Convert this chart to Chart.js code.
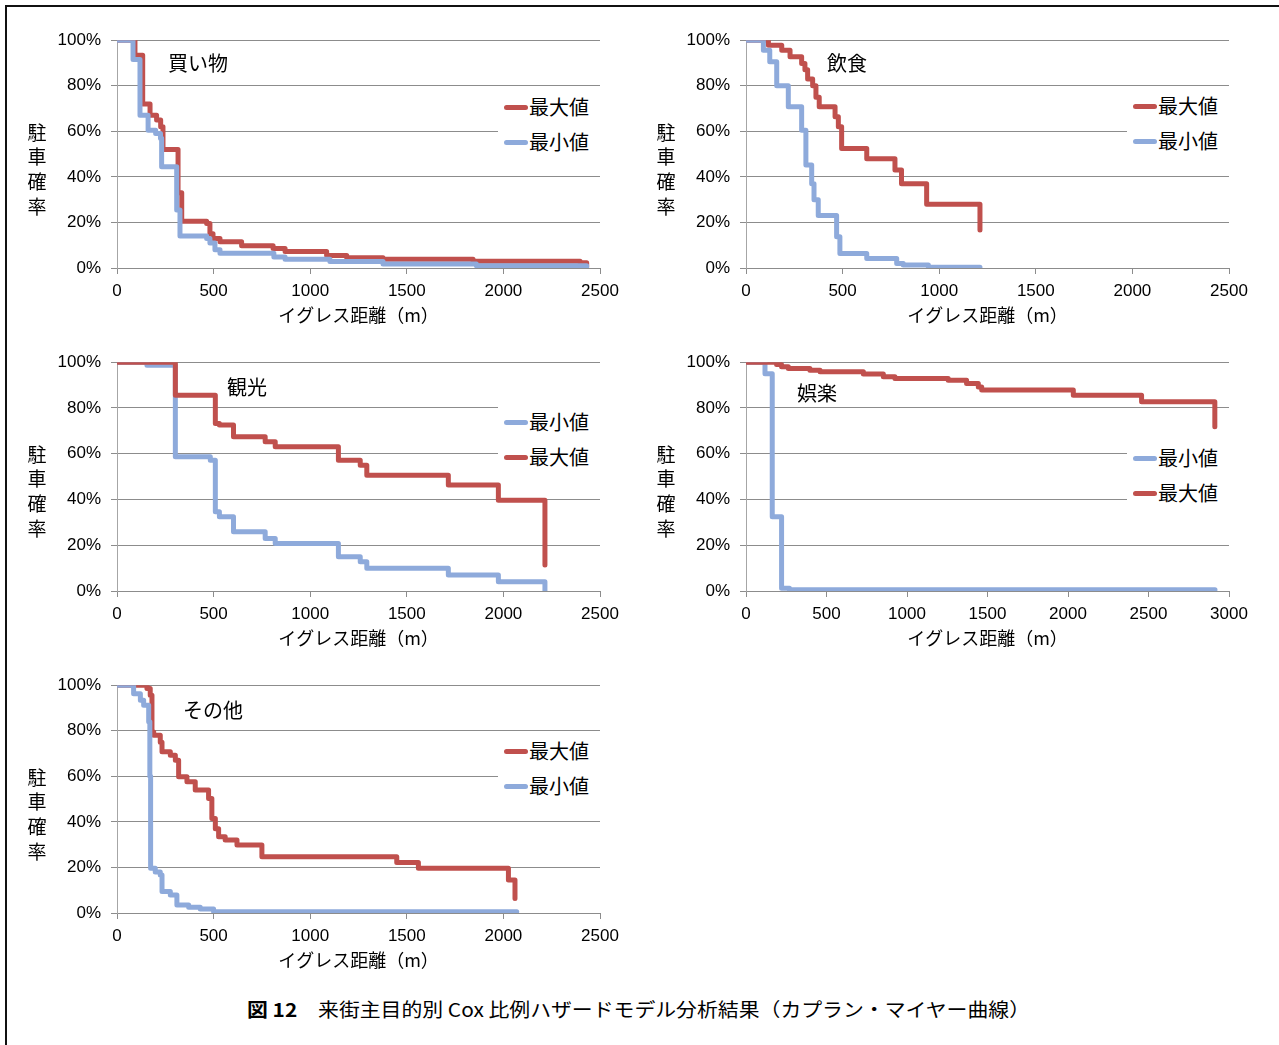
<!DOCTYPE html>
<html lang="ja">
<head>
<meta charset="utf-8">
<title>来街主目的別 Cox 比例ハザードモデル分析結果</title>
<script src="https://cdn.jsdelivr.net/npm/chart.js@4/dist/chart.umd.min.js"></script>
<style>
  body { margin: 0; background: #fff; width: 1279px; height: 1045px; position: relative; overflow: hidden;
         font-family: 'Noto Sans CJK JP', sans-serif; color: #000; }
  .frame { position: absolute; left: 5px; top: 5px; width: 1300px; height: 1100px; border: 2px solid #111; }
  .panel { position: absolute; }
  .lbl { position: absolute; font-size: 20px; line-height: 24px; white-space: nowrap; }
  .ytitle { position: absolute; font-size: 19px; line-height: 24.7px; width: 24px; text-align: center; }
  .legend { position: absolute; background: #fff; }
  .legend .sw { position: absolute; width: 24px; height: 5px; border-radius: 3px; }
  .legend .tx { position: absolute; font-size: 20px; line-height: 24px; white-space: nowrap; }
  .caption { position: absolute; left: 247px; top: 997px; font-size: 19px; line-height: 24px; white-space: nowrap;
             transform-origin: left center; }
</style>
</head>
<body>
<div class="frame"></div>
<div id="root"></div>
<div class="caption" id="caption"><b>図 12</b>　来街主目的別 Cox 比例ハザードモデル分析結果（カプラン・マイヤー曲線）</div>
<script>
const redColor = '#c0504d';
const blueColor = '#8eaadb';

const distTicks = [0, 500, 1000, 1500, 2000, 2500];
const distTicksWide = [0, 500, 1000, 1500, 2000, 2500, 3000];
const probTicks = [0, 20, 40, 60, 80, 100];
const xTitle = 'イグレス距離（m）';
const yTitle = ['駐', '車', '確', '率'];

// 買い物
const shopMaxX = [0, 93, 133, 171, 205, 226, 238, 316, 335, 464, 481, 497, 533, 645, 808, 870, 1085, 1189, 1377, 1843, 2397, 2431];
const shopMaxY = [100, 93.4, 72, 67, 65, 62, 52, 33, 20.5, 19.5, 15, 13, 11.5, 9.8, 8.6, 7.2, 5.5, 4.5, 3.8, 3, 2.3, 0.6];
const shopMinX = [0, 83, 119, 161, 200, 225, 231, 309, 326, 464, 481, 507, 533, 812, 870, 1102, 1377, 1860, 2431];
const shopMinY = [100, 91.5, 67, 60.5, 59, 57, 44.5, 25.5, 14, 13, 11, 8, 6.5, 4.8, 3.8, 2.8, 1.8, 1, 0.3];

// 飲食
const foodMaxX = [0, 116, 185, 228, 288, 305, 319, 345, 362, 379, 461, 478, 495, 625, 771, 805, 935, 1211];
const foodMaxY = [100, 97.8, 95.6, 92.7, 89.8, 87, 83, 80, 75, 70.8, 66.4, 62, 52.5, 48, 43, 37, 28, 16.7];
const foodMinX = [0, 90, 123, 159, 219, 288, 310, 340, 352, 374, 469, 486, 625, 780, 814, 944, 1211];
const foodMinY = [100, 95.6, 90.5, 80, 70.8, 60.5, 45.2, 37, 30, 23, 13.7, 6.4, 4.2, 2, 1.3, 0.3, 0.3];

// 観光
const tourMinX = [0, 155, 302, 483, 509, 530, 603, 767, 819, 1146, 1259, 1293, 1715, 1974, 2215];
const tourMinY = [100, 98.7, 58.7, 57.2, 34.6, 32.4, 25.9, 23, 20.8, 15, 12.8, 9.9, 7, 4, 0];
const tourMaxX = [0, 302, 509, 530, 603, 767, 819, 1146, 1259, 1293, 1715, 1974, 2215];
const tourMaxY = [100, 85.6, 73.2, 72.5, 67.4, 65.2, 63, 57.2, 55, 50.6, 46.3, 39.7, 11.4];

// 娯楽
const funMinX = [0, 118, 163, 221, 270, 2913];
const funMinY = [100, 95, 32.5, 1.2, 0.5, 0.5];
const funMaxX = [0, 190, 221, 263, 397, 460, 729, 853, 925, 1256, 1370, 1443, 1464, 2033, 2457, 2912];
const funMaxY = [100, 99, 98, 97.2, 96.5, 95.8, 94.8, 93.6, 92.9, 92.1, 90.7, 89.2, 87.8, 85.6, 82.7, 71.8];

// その他
const otherMaxX = [0, 155, 172, 181, 190, 224, 233, 276, 302, 319, 362, 405, 474, 491, 509, 526, 560, 621, 750, 1448, 1560, 2026, 2060];
const otherMaxY = [100, 98.5, 95.6, 79.5, 78, 75, 70.8, 69.3, 67, 59.8, 57.6, 54, 50.3, 41.5, 37, 33.5, 32, 29.8, 24.7, 22.2, 19.6, 14.5, 6.4];
const otherMinX = [0, 86, 121, 138, 164, 170, 174, 198, 224, 233, 276, 310, 371, 431, 500, 2069];
const otherMinY = [100, 96.3, 93.4, 91.2, 84, 60, 19.6, 18, 16.7, 9.4, 7.9, 3.5, 2.5, 1.8, 0.6, 0.6];

const maxName = '最大値';
const minName = '最小値';

const panels = [
  { title: '買い物', left: 117, top: 40, bottom: 268, xMax: 2500, xTicks: distTicks, labelDx: 51, labelDy: 23, legendDy: 67,
    series: [{ name: maxName, color: redColor, x: shopMaxX, y: shopMaxY }, { name: minName, color: blueColor, x: shopMinX, y: shopMinY }] },
  { title: '飲食', left: 746, top: 40, bottom: 268, xMax: 2500, xTicks: distTicks, labelDx: 81, labelDy: 23, legendDy: 66,
    series: [{ name: maxName, color: redColor, x: foodMaxX, y: foodMaxY }, { name: minName, color: blueColor, x: foodMinX, y: foodMinY }] },
  { title: '観光', left: 117, top: 362, bottom: 591, xMax: 2500, xTicks: distTicks, labelDx: 110, labelDy: 25, legendDy: 60,
    series: [{ name: minName, color: blueColor, x: tourMinX, y: tourMinY }, { name: maxName, color: redColor, x: tourMaxX, y: tourMaxY }] },
  { title: '娯楽', left: 746, top: 362, bottom: 591, xMax: 3000, xTicks: distTicksWide, labelDx: 51, labelDy: 31, legendDy: 96,
    series: [{ name: minName, color: blueColor, x: funMinX, y: funMinY }, { name: maxName, color: redColor, x: funMaxX, y: funMaxY }] },
  { title: 'その他', left: 117, top: 685, bottom: 913, xMax: 2500, xTicks: distTicks, labelDx: 66, labelDy: 25, legendDy: 66,
    series: [{ name: maxName, color: redColor, x: otherMaxX, y: otherMaxY }, { name: minName, color: blueColor, x: otherMinX, y: otherMinY }] }
];

const root = document.getElementById('root');
const tickFont = { family: "'Liberation Sans', 'Noto Sans CJK JP', sans-serif", size: 17 };
const PAD_L = 97, PAD_T = 20, PAD_R = 30, X_H = 62, PLOT_W = 483;

panels.forEach(p => {
  const plotH = p.bottom - p.top;
  const box = document.createElement('div');
  box.className = 'panel';
  box.style.left = (p.left - PAD_L) + 'px';
  box.style.top = (p.top - PAD_T) + 'px';
  const canvas = document.createElement('canvas');
  canvas.width = PAD_L + PLOT_W + PAD_R;
  canvas.height = PAD_T + plotH + X_H;
  box.appendChild(canvas);
  root.appendChild(box);

  new Chart(canvas, {
    type: 'line',
    data: {
      datasets: p.series.map((s, i) => ({
        label: s.name,
        data: s.x.map((x, k) => ({ x: x, y: s.y[k] })),
        borderColor: s.color,
        backgroundColor: s.color,
        borderWidth: 5,
        borderJoinStyle: 'round',
        borderCapStyle: 'round',
        pointRadius: 0,
        fill: false,
        stepped: 'before',
        order: p.series.length - 1 - i
      }))
    },
    options: {
      responsive: false,
      animation: false,
      layout: { padding: { left: 0, top: PAD_T, right: PAD_R, bottom: 0 } },
      plugins: { legend: { display: false }, tooltip: { enabled: false } },
      scales: {
        x: {
          type: 'linear', min: 0, max: p.xMax,
          afterBuildTicks: s => { s.ticks = p.xTicks.map(v => ({ value: v })); },
          afterFit: s => { s.height = X_H; },
          ticks: { color: '#000', font: tickFont, padding: 7, maxRotation: 0, autoSkip: false, callback: v => String(v) },
          grid: { drawOnChartArea: false, drawTicks: true, tickLength: 6, color: '#8c8c8c' },
          border: { color: '#8c8c8c', width: 1 },
          title: { display: true, text: xTitle, color: '#000',
                   font: { family: "'Noto Sans CJK JP', sans-serif", size: 18 }, padding: { top: 0, bottom: 4 } }
        },
        y: {
          min: 0, max: 100,
          afterBuildTicks: s => { s.ticks = probTicks.map(v => ({ value: v })); },
          afterFit: s => { s.width = PAD_L; },
          ticks: { color: '#000', font: tickFont, padding: 10, callback: v => v + '%' },
          grid: { drawTicks: true, tickLength: 6, color: '#8c8c8c' },
          border: { color: '#a6a6a6', width: 1 }
        }
      }
    }
  });

  // panel label
  const lbl = document.createElement('div');
  lbl.className = 'lbl';
  lbl.textContent = p.title;
  lbl.style.left = (p.left + p.labelDx) + 'px';
  lbl.style.top = (p.top + p.labelDy - 12) + 'px';
  root.appendChild(lbl);

  // stacked y-axis title
  const yt = document.createElement('div');
  yt.className = 'ytitle';
  yt.innerHTML = yTitle.join('<br>');
  yt.style.left = (p.left - 80 - 12) + 'px';
  yt.style.top = (p.top + 92 - 12.35) + 'px';
  root.appendChild(yt);

  // legend
  const lg = document.createElement('div');
  lg.className = 'legend';
  const lgTop = p.top + p.legendDy - 17;
  lg.style.left = (p.left + 381) + 'px';
  lg.style.top = lgTop + 'px';
  lg.style.width = (PLOT_W - 381) + 'px';
  lg.style.height = '69px';
  p.series.forEach((s, i) => {
    const cy = 17 + i * 35;
    const sw = document.createElement('div');
    sw.className = 'sw';
    sw.style.background = s.color;
    sw.style.left = '6px';
    sw.style.top = (cy - 2.5) + 'px';
    const tx = document.createElement('div');
    tx.className = 'tx';
    tx.textContent = s.name;
    tx.style.left = '31px';
    tx.style.top = (cy - 12) + 'px';
    lg.appendChild(sw);
    lg.appendChild(tx);
  });
  root.appendChild(lg);
});

const cap = document.getElementById('caption');
const capW = cap.getBoundingClientRect().width;
cap.style.transform = 'scaleX(' + (783 / capW) + ')';
</script>
</body>
</html>
